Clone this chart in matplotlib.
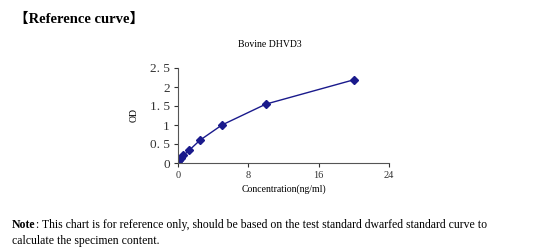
import matplotlib
matplotlib.use("Agg")
import matplotlib.pyplot as plt

conc = [0, 0.156, 0.3125, 0.625, 1.25, 2.5, 5, 10, 20]
od = [0.05, 0.08, 0.12, 0.2, 0.33, 0.6, 1.0, 1.55, 2.19]
xticks = [0, 8, 16, 24]
yticks = [0, 0.5, 1, 1.5, 2, 2.5]
ytick_labels = ["0", "0. 5", "1", "1. 5", "2", "2. 5"]

plt.rcParams['font.family'] = ['Liberation Serif', 'Noto Sans CJK SC', 'DejaVu Sans']

fig = plt.figure(figsize=(5.38, 2.48), dpi=100)
W, H = 538, 248
ax = fig.add_axes([178 / W, 1 - 163 / H, (389 - 178) / W, (163 - 68) / H])

navy = '#1a1a8c'
ax.plot(conc, od, color=navy, lw=1, marker='D', ms=4.5, mfc=navy, mec=navy)

ax.set_xlim(0, 24)
ax.set_ylim(0, 2.5)
ax.set_xticks(xticks)
ax.set_yticks(yticks)
ax.set_yticklabels(ytick_labels)
ax.tick_params(axis='both', direction='out', length=3, width=0.8, labelsize=9.5,
               colors='#333333', pad=3)
ax.tick_params(axis='x', labelsize=7.5)
for s in ['top', 'right']:
    ax.spines[s].set_visible(False)
for s in ['left', 'bottom']:
    ax.spines[s].set_color('#555555')
    ax.spines[s].set_linewidth(0.8)

ax.set_xlabel('Concentration(ng/ml)', fontsize=7, labelpad=3)
ax.set_ylabel('OD', fontsize=7, labelpad=8)

fig.text(270 / W, 1 - 44 / H, 'Bovine DHVD3', fontsize=7, ha='center', va='center')
fig.text(14 / W, 1 - 19 / H, '【Reference curve】', fontsize=10.5, fontweight='bold',
         ha='left', va='center')

note = fig.text(12 / W, 1 - 225 / H, 'Note', fontsize=8.5, fontweight='bold',
                ha='left', va='center')
fig.canvas.draw()
bb = note.get_window_extent()
fig.text(bb.x1 / W, 1 - 225 / H,
         ': This chart is for reference only, should be based on the test standard dwarfed standard curve to',
         fontsize=8.5, ha='left', va='center')
fig.text(12 / W, 1 - 241 / H, 'calculate the specimen content.',
         fontsize=8.5, ha='left', va='center')

fig.savefig('out.png', dpi=100)
